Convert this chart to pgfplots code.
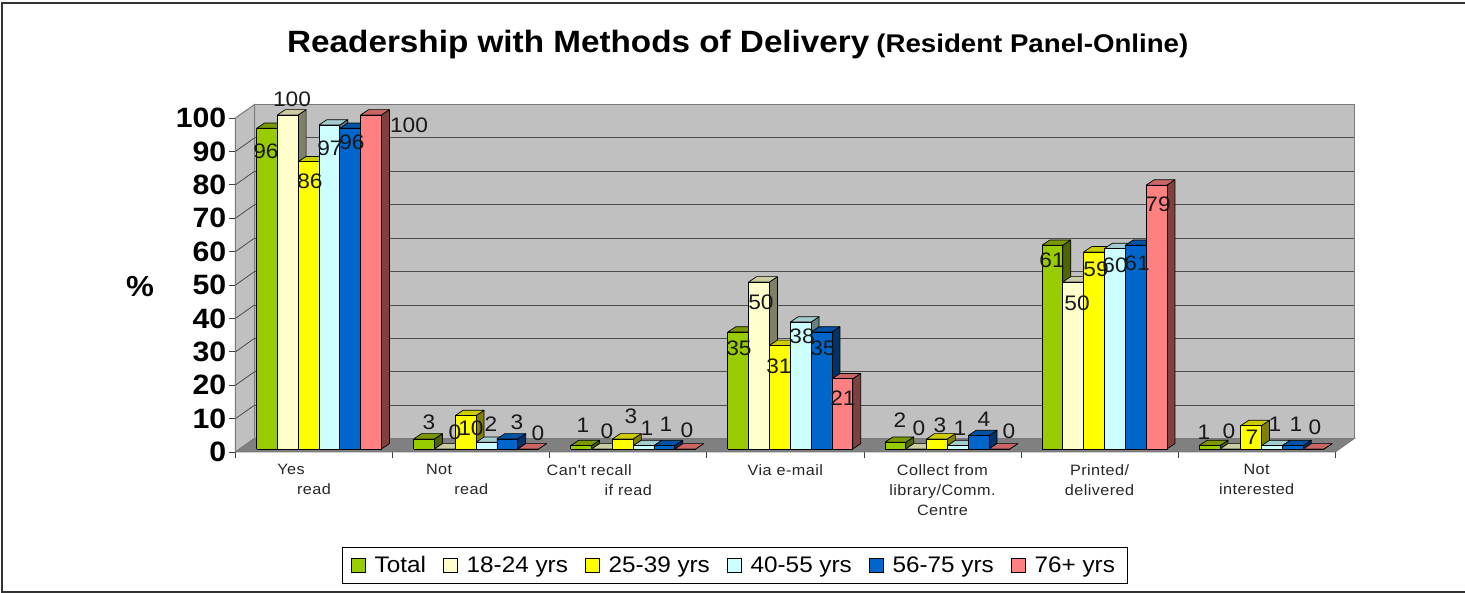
\documentclass[border=0pt]{standalone}
\usepackage{pgfplots}
\pgfplotsset{compat=1.18}
\usepackage{fontspec}
\setmainfont[FakeStretch=1.08]{Liberation Sans}
\newfontfamily\xlab[FakeStretch=1.08,LetterSpace=3]{Liberation Sans}
\definecolor{wall}{HTML}{C0C0C0}
\definecolor{floorc}{HTML}{808080}
\definecolor{edgec}{HTML}{7A7A7A}
\definecolor{fa}{HTML}{99CC00}\definecolor{sa}{HTML}{4D6600}\definecolor{ta}{HTML}{7A9900}
\definecolor{fb}{HTML}{FFFFCC}\definecolor{sb}{HTML}{808066}\definecolor{tb}{HTML}{CCCCA3}
\definecolor{fc}{HTML}{FFFF00}\definecolor{sc}{HTML}{808000}\definecolor{tc}{HTML}{CCCC00}
\definecolor{fd}{HTML}{CCFFFF}\definecolor{sd}{HTML}{668080}\definecolor{td}{HTML}{A3CCCC}
\definecolor{fe}{HTML}{0066CC}\definecolor{se}{HTML}{003366}\definecolor{te}{HTML}{0052A3}
\definecolor{ff}{HTML}{FF8080}\definecolor{sf}{HTML}{804040}\definecolor{tf}{HTML}{CC6666}
% one bar: #1 group, #2 position in the group, #3 value, #4 colour letter
\newcommand{\threeDbar}[4]{%
  \pgfmathsetmacro{\xa}{#1+0.1337+#2*0.1325}%
  \pgfmathsetmacro{\xb}{\xa+0.1325}%
  \pgfmathsetmacro{\xc}{\xa+0.051}%
  \pgfmathsetmacro{\xd}{\xb+0.051}%
  \pgfmathsetmacro{\ya}{0.9}%
  \pgfmathsetmacro{\yb}{#3+0.9}%
  \pgfmathsetmacro{\yc}{\yb+1.6}%
  \pgfmathsetmacro{\yd}{\ya+1.6}%
  \addplot[forget plot,fill=s#4,draw=black,line width=0.7pt,mark=none,line join=round]
    coordinates {(\xb,\ya) (\xd,\yd) (\xd,\yc) (\xb,\yb) (\xb,\ya)};
  \addplot[forget plot,fill=t#4,draw=black,line width=0.7pt,mark=none,line join=round]
    coordinates {(\xa,\yb) (\xb,\yb) (\xd,\yc) (\xc,\yc) (\xa,\yb)};
  \addplot[forget plot,fill=f#4,draw=black,line width=0.7pt,mark=none,line join=round]
    coordinates {(\xa,\ya) (\xb,\ya) (\xb,\yb) (\xa,\yb) (\xa,\ya)};
}
\newcommand{\grp}[7]{%
  \threeDbar{#1}{0}{#2}{a}\threeDbar{#1}{1}{#3}{b}\threeDbar{#1}{2}{#4}{c}%
  \threeDbar{#1}{3}{#5}{d}\threeDbar{#1}{4}{#6}{e}\threeDbar{#1}{5}{#7}{f}}
% text placed by reference position
\newcommand{\lbl}[3]{\node[font=\fontsize{21}{22}\selectfont,text=black!90,inner sep=0pt] at (axis cs:{(#1-235.5)/157.1},{(452-#2)/3.34}) {#3};}
\begin{document}
\begin{tikzpicture}[x=1pt,y=1pt]
\path[use as bounding box] (-235.5,-141) rectangle (1229.5,452);
\draw[line width=1.3pt,draw=black!80] (1229.5,449) -- (-233.5,449) -- (-233.5,-140) -- (1229.5,-140);
\begin{axis}[
  at={(0pt,0pt)},anchor=south west,
  x=157.1pt,y=3.34pt,
  xmin=0,xmax=7,ymin=0,ymax=100,
  clip=false,
  axis x line=bottom,axis y line=left,
  axis line style={-,draw=none},
  xtick={0,1,2,3,4,5,6,7},xticklabels={},
  extra x ticks={0.5,1.5,2.5,3.5,4.5,5.5,6.5},
  extra x tick labels={Yes\hspace*{46pt}\\read,Not\hspace*{64pt}\\read,Can't recall\hspace*{78pt}\\if read,Via e-mail,Collect from\\library/Comm.\\Centre,Printed/\\delivered,Not\\interested},
  extra x tick style={major tick length=0pt,tick label style={yshift=-12pt}},
  x tick label style={align=center,anchor=north,font=\xlab\fontsize{15}{20}\selectfont,text=black!85,inner sep=0pt},
  ytick={0,10,...,100},
  y tick label style={font=\bfseries\fontsize{28}{28}\selectfont,inner sep=0pt,xshift=-3pt},
  /pgf/number format/assume math mode=true,
  major tick length=6pt,
  tick style={draw=black!75,line width=0.8pt},
  tick align=outside,
  every axis y label/.style={at={(axis cs:-0.607,49.5)},anchor=center},
  ylabel={\bfseries\fontsize{29}{29}\selectfont\%},
  legend columns=6,
  legend cell align=left,
  legend image code/.code={\draw[#1,line width=0.7pt] (0pt,-7pt) rectangle (14pt,7pt);},
  legend style={at={(axis cs:3.176,-34.0)},anchor=center,draw=black,line width=0.8pt,
    font=\fontsize{22.5}{24}\selectfont,inner xsep=9pt,inner ysep=7pt,
    /tikz/every even column/.append style={column sep=14pt},
    /tikz/every odd column/.append style={column sep=6pt},
    nodes={inner xsep=3pt,inner ysep=2pt}},
]
% walls and floor
\addplot[forget plot,fill=wall,draw=edgec,line width=1pt,mark=none] coordinates {(0.121,4.04) (7.121,4.04) (7.121,104.04) (0.121,104.04) (0.121,4.04)};
\addplot[forget plot,fill=wall,draw=edgec,line width=1pt,mark=none] coordinates {(0,0) (0.121,4.04) (0.121,104.04) (0,100) (0,0)};
\pgfplotsinvokeforeach{10,20,30,40,50,60,70,80,90}{
  \addplot[forget plot,draw=black!70,line width=0.8pt,mark=none] coordinates {(0.121,#1+4.04) (7.121,#1+4.04)};
}
\addplot[forget plot,draw=black!70,line width=0.8pt,mark=none] coordinates {(0,10) (0.121,14.04)};
\addplot[forget plot,draw=black!70,line width=0.8pt,mark=none] coordinates {(0,20) (0.121,24.04)};
\addplot[forget plot,draw=black!70,line width=0.8pt,mark=none] coordinates {(0,30) (0.121,34.04)};
\addplot[forget plot,draw=black!70,line width=0.8pt,mark=none] coordinates {(0,40) (0.121,44.04)};
\addplot[forget plot,draw=black!70,line width=0.8pt,mark=none] coordinates {(0,50) (0.121,54.04)};
\addplot[forget plot,draw=black!70,line width=0.8pt,mark=none] coordinates {(0,60) (0.121,64.04)};
\addplot[forget plot,draw=black!70,line width=0.8pt,mark=none] coordinates {(0,70) (0.121,74.04)};
\addplot[forget plot,draw=black!70,line width=0.8pt,mark=none] coordinates {(0,80) (0.121,84.04)};
\addplot[forget plot,draw=black!70,line width=0.8pt,mark=none] coordinates {(0,90) (0.121,94.04)};
\addplot[forget plot,fill=floorc,draw=edgec,line width=1pt,mark=none] coordinates {(0,0) (7,0) (7.121,4.04) (0.121,4.04) (0,0)};
% bars
\grp{0}{96}{100}{86}{97}{96}{100}
\grp{1}{3}{0}{10}{2}{3}{0}
\grp{2}{1}{0}{3}{1}{1}{0}
\grp{3}{35}{50}{31}{38}{35}{21}
\grp{4}{2}{0}{3}{1}{4}{0}
\grp{5}{61}{50}{59}{60}{61}{79}
\grp{6}{1}{0}{7}{1}{1}{0}
\addplot[forget plot,draw=edgec,line width=1pt,mark=none] coordinates {(0,0) (7,0)};
% legend
\addlegendimage{fill=fa}\addlegendentry{Total}
\addlegendimage{fill=fb}\addlegendentry{18-24 yrs}
\addlegendimage{fill=fc}\addlegendentry{25-39 yrs}
\addlegendimage{fill=fd}\addlegendentry{40-55 yrs}
\addlegendimage{fill=fe}\addlegendentry{56-75 yrs}
\addlegendimage{fill=ff}\addlegendentry{76+ yrs}
% value labels
\lbl{266}{151}{96}\lbl{292}{99}{100}\lbl{310}{181}{86}\lbl{330}{148}{97}\lbl{352}{142}{96}\lbl{409}{125}{100}
\lbl{429}{422}{3}\lbl{455}{432}{0}\lbl{471}{428}{10}\lbl{491}{424}{2}\lbl{517}{422}{3}\lbl{538}{433}{0}
\lbl{583}{425}{1}\lbl{607}{431}{0}\lbl{631}{416}{3}\lbl{647}{428}{1}\lbl{666}{424}{1}\lbl{687}{430}{0}
\lbl{739}{348}{35}\lbl{761}{302}{50}\lbl{779}{366}{31}\lbl{802}{336}{38}\lbl{823}{348}{35}\lbl{843}{398}{21}
\lbl{900}{420}{2}\lbl{919}{428}{0}\lbl{940}{425}{3}\lbl{960}{428}{1}\lbl{984}{419}{4}\lbl{1009}{431}{0}
\lbl{1052}{260}{61}\lbl{1077}{303}{50}\lbl{1096}{269}{59}\lbl{1115}{265}{60}\lbl{1137}{263}{61}\lbl{1158}{204}{79}
\lbl{1204}{432}{1}\lbl{1229}{431}{0}\lbl{1252}{437}{7}\lbl{1275}{424}{1}\lbl{1296}{424}{1}\lbl{1315}{427}{0}
% title
\node[inner sep=0pt,anchor=base west] at (axis cs:{(287-235.5)/157.1},{(452-53)/3.34}) {\bfseries\fontsize{30.8}{30}\selectfont Readership with Methods of Delivery\hspace{7pt}\fontsize{25.6}{30}\selectfont (Resident Panel-Online)};
\end{axis}
\end{tikzpicture}
\end{document}
